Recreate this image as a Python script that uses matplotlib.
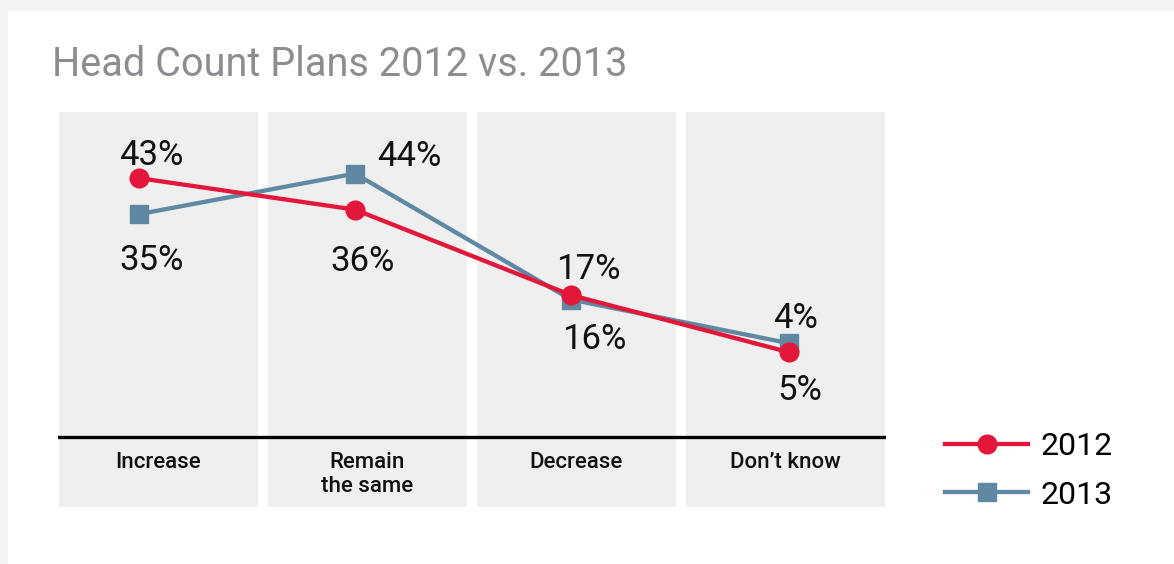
import matplotlib
matplotlib.use("Agg")
import matplotlib.pyplot as plt
import numpy as np
from matplotlib.patches import Rectangle

plt.rcParams['font.family'] = ['Roboto', 'DejaVu Sans']

# data
categories = ["Increase", "Remain\nthe same", "Decrease", "Don\u2019t know"]
y2012 = [43, 36, 17, 4.3]
y2013 = [35, 44, 16, 6.3]
labels2012 = ["43%", "36%", "17%", "5%"]
labels2013 = ["35%", "44%", "16%", "4%"]

red = "#e3173a"
blue = "#5f88a2"
panel = "#efefef"

W, H = 1174, 564
fig = plt.figure(figsize=(W / 100, H / 100), dpi=100)
fig.patch.set_facecolor("#f3f3f3")
# white card
fig.patches.append(Rectangle((8 / W, 0), 1, 1 - 11 / H, transform=fig.transFigure,
                             facecolor="white", edgecolor="none", zorder=-5))

fig.text(52 / W, 1 - 76 / H, "Head Count Plans 2012 vs. 2013", fontsize=28.5,
         color="#8b8d90", ha="left", va="baseline")

ax = fig.add_axes([58 / W, 1 - 507 / H, 828 / W, 395 / H])
ax.set_zorder(2)
ax.set_xlim(-0.481, 3.481)
ymin, ymax = -30.1, 57.7
ax.set_ylim(ymin, ymax)
ax.axis("off")

x = np.arange(len(categories))
ax.bar(x, ymax - ymin, bottom=ymin, width=0.952, color=panel, zorder=0)
ax.axhline(-14.56, color="black", lw=2.4, zorder=1)

# markers sit slightly off the column centres in the original
shift = np.array([-0.093, -0.06, -0.026, 0.017])
px = x + shift

ax.plot(px, y2013, color=blue, lw=3.1, marker="s", ms=12.5, zorder=3, label="2013")
ax.plot(px, y2012, color=red, lw=3.1, marker="o", ms=13.5, zorder=4, label="2012")

off2012 = [(12, 13), (8, -61), (17, 16), (11, -48)]
off2013 = [(12, -56), (54, 8), (23, -49), (7, 15)]
for i in range(len(categories)):
    ax.annotate(labels2012[i], (px[i], y2012[i]), xytext=off2012[i],
                textcoords="offset pixels", ha="center", va="baseline",
                fontsize=25, color="#111111")
    ax.annotate(labels2013[i], (px[i], y2013[i]), xytext=off2013[i],
                textcoords="offset pixels", ha="center", va="baseline",
                fontsize=25, color="#111111")

for i, c in enumerate(categories):
    ax.text(x[i], -17.9, c, ha="center", va="top", fontsize=16,
            fontweight="medium", color="#111111", linespacing=1.2)

h, l = ax.get_legend_handles_labels()
fig.legend(h[::-1], l[::-1], loc="center left",
           bbox_to_anchor=(945 / W, 1 - 471 / H), frameon=False,
           fontsize=23, handlelength=2.6, handletextpad=0.4,
           labelspacing=0.6, borderpad=0, borderaxespad=0)

fig.savefig("out.png", dpi=100, facecolor=fig.get_facecolor())
